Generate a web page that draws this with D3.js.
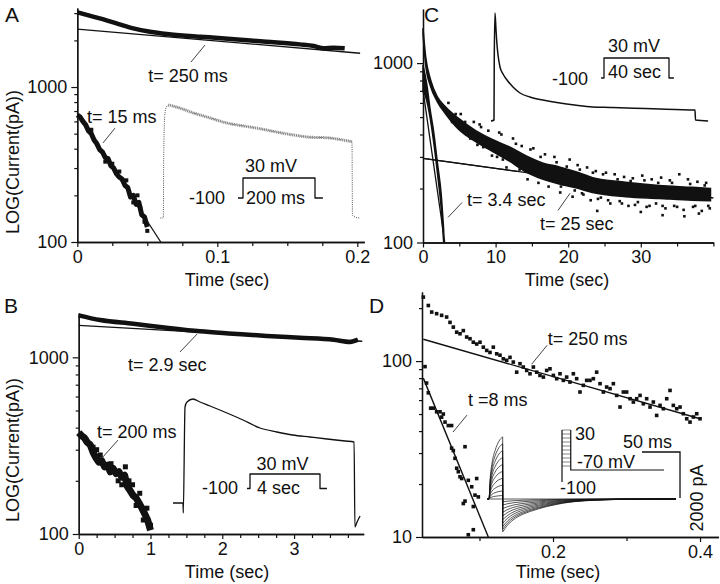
<!DOCTYPE html>
<html><head><meta charset="utf-8">
<script src="https://cdn.jsdelivr.net/npm/d3@7"></script>
<style>
body{margin:0;background:#fff}
svg text{font-family:"Liberation Sans",Arial,Helvetica,sans-serif;fill:#111}
</style>
</head><body>
<svg id="c" width="720" height="584"></svg>
<script>
// ================= DATA =================
// ---- Panel A (time in s, current in pA) ----
const aXMajor = [0, 0.1, 0.2];
const aXMinor = [0.025, 0.05, 0.075, 0.125, 0.15, 0.175];
const aYMajor = [100, 1000];
const aYMinor = [200, 300, 400, 500, 600, 700, 800, 900, 2000, 3000];
const aSlowT = [0, 0.008, 0.016, 0.028, 0.04, 0.052, 0.064, 0.088, 0.112, 0.135, 0.159, 0.169, 0.176, 0.183, 0.191];
const aSlowV = [3034, 2900, 2775, 2576, 2392, 2274, 2198, 2113, 2032, 1960, 1885, 1840, 1778, 1794, 1778];
const aFastT = [0, 0.002, 0.004, 0.006, 0.008, 0.010, 0.012, 0.014, 0.016, 0.018, 0.020, 0.022, 0.024, 0.026, 0.028, 0.030, 0.032, 0.034, 0.036, 0.038, 0.040, 0.042, 0.044, 0.046, 0.048, 0.050];
const aFastV = [660, 640, 600, 570, 520, 500, 455, 430, 395, 380, 350, 345, 310, 300, 275, 262, 255, 232, 225, 195, 200, 175, 180, 150, 145, 125];
const aFastDotT = [0.01, 0.02, 0.03, 0.035, 0.04, 0.045, 0.048, 0.05, 0.025, 0.043];
const aFastDotV = [530, 330, 285, 250, 180, 165, 135, 118, 320, 200];
const aFitSlowT = [0, 0.202], aFitSlowV = [2366, 1652];
const aFitFastT = [0, 0.0596], aFitFastV = [676, 100];
// inset current trace A (ms, nA)
const aInsT = [-3.2, 0, 0.5, 1.8, 3.5, 5.3, 14.8, 31.7, 49.7, 67.7, 84.7, 102.6, 120.6, 137.6, 155.6, 173.5, 190.5, 200, 200.5, 203, 208];
const aInsI = [0, 0, 1.2, 1.86, 1.97, 2.0, 1.96, 1.86, 1.77, 1.68, 1.63, 1.58, 1.52, 1.47, 1.43, 1.42, 1.38, 1.35, 0.05, 0.02, 0];
const protoAT = [-14, 0, 0, 200, 200, 222];
const protoV = [-100, -100, 30, 30, -100, -100];

// ---- Panel B ----
const bXMajor = [0, 1, 2, 3];
const bXMinor = [0.25, 0.5, 0.75, 1.25, 1.5, 1.75, 2.25, 2.5, 2.75, 3.25, 3.5, 3.75];
const bYMajor = [100, 1000];
const bYMinor = [200, 300, 400, 500, 600, 700, 800, 900];
const bSlowT = [0, 0.3, 0.76, 1.22, 1.69, 2.15, 2.62, 3.08, 3.55, 3.78, 3.89];
const bSlowV = [1729, 1625, 1550, 1471, 1403, 1361, 1321, 1291, 1259, 1222, 1259];
const bFastT = [0, 0.04, 0.08, 0.12, 0.16, 0.2, 0.24, 0.28, 0.32, 0.36, 0.40, 0.44, 0.48, 0.52, 0.56, 0.60, 0.64, 0.68, 0.72, 0.76, 0.80, 0.84, 0.88, 0.92, 0.96, 1.0];
const bFastV = [375, 360, 350, 330, 320, 290, 270, 255, 260, 240, 245, 225, 235, 220, 225, 210, 215, 185, 175, 165, 160, 150, 140, 130, 120, 105];
const bFastDotT = [0.1, 0.2, 0.3, 0.45, 0.55, 0.65, 0.75, 0.8, 0.85, 0.9, 0.95, 1.0, 0.25, 0.6, 0.7];
const bFastDotV = [340, 310, 280, 250, 200, 240, 190, 145, 170, 120, 140, 112, 300, 190, 200];
const bFitSlowT = [0, 3.95], bFitSlowV = [1517, 1233];
const bInsT = [-0.233, 0, 0.007, 0.047, 0.093, 0.233, 0.396, 0.63, 1.026, 1.4, 1.795, 2.19, 2.56, 2.96, 3.36, 3.78, 3.99, 4.01, 4.06, 4.13];
const bInsI = [0, 0, -0.2, 1.92, 2.02, 2.08, 2.02, 1.94, 1.8, 1.66, 1.5, 1.42, 1.36, 1.32, 1.28, 1.24, 1.22, -0.48, -0.38, -0.26];
const protoBT = [-0.17, 0, 0, 4, 4, 4.4];

// ---- Panel C ----
const cXMajor = [0, 10, 20, 30];
const cXMinor = [5, 15, 25, 35, 40];
const cYMajor = [100, 1000];
const cYMinor = [200, 300, 400, 500, 600, 700, 800, 900];
const cSlowT  = [0, 0.37, 1.06, 1.98, 3.12, 4.96, 7.25, 9.55, 11.85, 14.15, 16.45, 18.75, 21.05, 23.35, 27.9, 32.5, 37.1, 39.6];
const cSlowHi = [1563, 1084, 803, 648, 570, 490, 420, 375, 342, 305, 278, 264, 248, 230, 217, 208, 203, 200];
const cSlowLo = [1450, 975, 738, 608, 520, 425, 365, 322, 285, 248, 226, 212, 202, 190, 180, 176, 172, 171];
const cFastT  = [0, 0.5, 1, 1.5, 2, 2.5, 2.85];
const cFastHi = [975, 770, 546, 405, 275, 187, 117];
const cFastLo = [706, 621, 491, 356, 242, 157, 100];
const cDotT = [4.5, 5.8, 6.5, 7.8, 8.3, 9.0, 10.2, 10.8, 11.5, 12.4, 13.0, 13.6, 14.4, 15.2, 15.9, 16.8, 17.3, 18.1, 18.9, 19.4, 20.2, 20.6, 21.3, 21.9, 22.6, 23.1, 23.8, 24.5, 25.2, 25.8, 26.4, 27.1, 27.7, 28.3, 28.9, 29.6, 30.2, 30.8, 31.5, 32.1, 32.8, 33.4, 34.0, 34.6, 35.3, 35.9, 36.5, 37.2, 37.8, 38.4, 39.0, 39.5, 26, 31, 36.2, 17.5, 12.0, 8.8, 22.3, 33.7,
  3.5, 4.0, 5.2, 6.0, 7.0, 7.5, 8.0, 9.5, 10.5, 11.0, 12.8, 13.3, 14.8, 15.5, 16.2, 17.0, 18.4, 19.0, 19.8, 20.9, 21.6, 22.1, 23.4, 24.1, 24.8, 25.5, 26.8, 27.4, 28.6, 29.2, 30.5, 31.2, 32.4, 33.0, 34.3, 35.0, 36.8, 37.5, 38.8, 39.3, 36, 38, 30, 24, 33];
const cDotV = [520, 470, 380, 455, 340, 420, 300, 400, 262, 380, 270, 345, 225, 335, 215, 310, 205, 300, 190, 210, 290, 180, 270, 188, 262, 172, 250, 178, 245, 165, 240, 170, 232, 160, 228, 168, 236, 158, 225, 165, 230, 155, 222, 160, 240, 152, 225, 158, 218, 150, 215, 155, 205, 200, 195, 260, 310, 370, 230, 190,
  600, 470, 520, 400, 470, 350, 440, 305, 410, 290, 355, 255, 330, 240, 300, 225, 280, 205, 265, 195, 255, 185, 245, 175, 240, 172, 225, 165, 220, 162, 222, 160, 215, 160, 215, 158, 212, 160, 208, 160, 140, 145, 148, 150, 142];
const cFitSlowT = [0, 40], cFitSlowV = [294, 177];
const cFitFastT = [0, 3.0], cFitFastV = [707, 100];
const cInsT = [-0.6, 0, 0.05, 0.2, 0.4, 0.6, 0.8, 1.19, 1.79, 2.58, 3.77, 5.16, 7.1, 9.7, 13.1, 16, 19.6, 23, 26.4, 30, 32.9, 36, 39.9, 40, 42.5];
const cInsI = [-0.02, 0, 1.2, 2.14, 1.8, 1.5, 1.3, 1.06, 0.92, 0.8, 0.66, 0.54, 0.46, 0.4, 0.34, 0.3, 0.26, 0.25, 0.24, 0.23, 0.22, 0.21, 0.2, 0, -0.02];
const protoCT = [-1.8, 0, 0, 40, 40, 43];

// ---- Panel D ----
const dXMajor = [0.2, 0.4];
const dXMinor = [0.1, 0.3];
const dYMajor = [10, 100];
const dYMinor = [20, 30, 40, 50, 60, 70, 80, 90, 200];
const dSlowT = [0.0236, 0.0304, 0.035, 0.0417, 0.0485, 0.0553, 0.0599, 0.0644, 0.069, 0.0735, 0.078, 0.0826, 0.0871, 0.0916, 0.0962, 0.1007, 0.1052, 0.1098, 0.1143, 0.1188, 0.1234, 0.1279, 0.1324, 0.137, 0.1415, 0.146, 0.1506, 0.1551, 0.1596, 0.1642, 0.1687, 0.1733, 0.1778, 0.1823, 0.1869, 0.1914, 0.1959, 0.2005, 0.205, 0.2095, 0.2141, 0.2186, 0.2231, 0.2277, 0.2322, 0.2367, 0.2413, 0.2458, 0.2503, 0.2549, 0.2594, 0.264, 0.2685, 0.273, 0.2776, 0.2821, 0.2866, 0.2912, 0.2957, 0.3002, 0.3048, 0.3093, 0.3138, 0.3184, 0.3229, 0.3274, 0.332, 0.3365, 0.341, 0.3456, 0.3501, 0.3547, 0.3592, 0.3637, 0.3683, 0.3728, 0.3773, 0.3819, 0.3864, 0.3909, 0.3955, 0.4];
const dSlowV = [231, 207, 190, 186, 182, 178, 166, 156, 146, 143, 149, 137, 134, 128, 125, 128, 120, 115, 112, 120, 110, 108, 103, 101, 105, 98.7, 86.5, 96.6, 92.5, 88.5, 84.7, 92.5, 86.5, 82.9, 81.1, 88.5, 90.4, 82.9, 79.4, 84.7, 77.7, 81.1, 76, 84.7, 79.4, 66.7, 72.8, 77.7, 77.7, 79.4, 86.5, 74.4, 66.7, 71.2, 69.7, 74.4, 63.8, 54.8, 66.7, 66.7, 61.1, 58.5, 61.1, 63.8, 57.2, 61.1, 54.8, 58.5, 49.1, 56, 53.6, 61.1, 68.1, 56, 53.6, 54.8, 50.2, 47, 45, 48.1, 50.2, 47];
const dFastT = [0.0259, 0.028, 0.0304, 0.0336, 0.0372, 0.0417, 0.0463, 0.0485, 0.0508, 0.0531, 0.0576, 0.0621, 0.0621, 0.0644, 0.0667, 0.069, 0.0712, 0.0735, 0.0758, 0.0803, 0.078, 0.0803, 0.0848, 0.0894, 0.0916, 0.0939, 0.0962, 0.0984, 0.0916, 0.0848];
const dFastV = [93, 75, 66, 54, 54, 51.5, 51.5, 48, 50, 45, 43, 43, 32, 31, 28, 24.6, 23.5, 22, 21.5, 32.6, 15.5, 16, 21, 19.3, 14.9, 17.3, 21.5, 16.9, 11, 10.3];
const dFitSlowT = [0.0236, 0.4], dFitSlowV = [133, 47];
const dFitFastT = [0.0236, 0.112], dFitFastV = [80, 10];
// inset D: current family (ms, pA)
const dStepMs = 18;
const dStepT = [0, 1.5, 4, 8, 13, 18];
const dStepShape = [0, 0.32, 0.58, 0.78, 0.93, 1];
const dTailT = [0, 3, 7, 13.5, 20, 28, 36, 47, 58, 70, 79, 95, 120, 150, 190, 228];
const dTailShape = [1, 0.9, 0.78, 0.64, 0.54, 0.45, 0.38, 0.3, 0.23, 0.17, 0.13, 0.08, 0.04, 0.015, 0.005, 0];
const dStepAmps = [0, 150, 350, 600, 900, 1200, 1500, 1800, 2100, 2400, 2700];
const dTailAmps = [0, 120, 260, 420, 580, 740, 900, 1050, 1200, 1320, 1430];
const dProtoLevels = [-60, -50, -40, -30, -20, -10, 0, 10, 20, 30];

// ================= LAYOUT =================
const INK = "#111";
const FS = 18;
const svg = d3.select("#c");

function txt(x, y, s, opt = {}) {
  const t = svg.append("text").attr("x", x).attr("y", y).text(s)
    .attr("font-size", opt.size || FS).attr("text-anchor", opt.anchor || "start");
  if (opt.rotate) t.attr("transform", `rotate(${opt.rotate},${x},${y})`);
  if (opt.dy) t.attr("dy", opt.dy);
  return t;
}
function styleAxis(g) {
  g.attr("font-size", FS).attr("font-family", '"Liberation Sans",Arial,sans-serif');
  g.selectAll("path.domain").attr("stroke", INK).attr("stroke-width", 1.3);
  g.selectAll("line").attr("stroke", INK).attr("stroke-width", 1.2);
  g.selectAll("text").attr("fill", INK);
}
function panel(o) {
  const x = d3.scaleLinear().domain(o.xd).range(o.xr);
  const y = d3.scaleLog().domain(o.yd).range(o.yr);
  const g = svg.append("g");
  const x0 = o.xr[0], y0 = o.yr[0];
  g.append("g").attr("transform", `translate(${x0},0)`)
    .call(d3.axisLeft(y).tickValues(o.yMin).tickSize(3).tickSizeOuter(0).tickFormat(""))
    .call(styleAxis);
  g.append("g").attr("transform", `translate(${x0},0)`)
    .call(d3.axisLeft(y).tickValues(o.yMaj).tickSize(6).tickSizeOuter(0).tickPadding(4).tickFormat(d => String(d)))
    .call(styleAxis);
  g.append("g").attr("transform", `translate(0,${y0})`)
    .call(d3.axisBottom(x).tickValues(o.xMin).tickSize(4).tickSizeOuter(0).tickFormat(""))
    .call(styleAxis);
  g.append("g").attr("transform", `translate(0,${y0})`)
    .call(d3.axisBottom(x).tickValues(o.xMaj).tickSize(5).tickSizeOuter(0).tickPadding(3).tickFormat(d => String(d)))
    .call(styleAxis);
  return { x, y, g };
}
function path(g, sx, sy, T, V, w, opt = {}) {
  return g.append("path").datum(d3.zip(T, V))
    .attr("fill", "none").attr("stroke", opt.color || INK).attr("stroke-width", w)
    .attr("stroke-linejoin", "round").attr("stroke-linecap", opt.cap || "butt")
    .attr("stroke-dasharray", opt.dash || null)
    .attr("d", d3.line().x(d => sx(d[0])).y(d => sy(d[1])).curve(opt.curve || d3.curveLinear));
}
function squares(g, sx, sy, T, V, s) {
  g.append("g").selectAll("rect").data(d3.zip(T, V)).join("rect")
    .attr("x", d => sx(d[0]) - s / 2).attr("y", d => sy(d[1]) - s / 2)
    .attr("width", s).attr("height", s).attr("fill", INK);
}
function band(g, sx, sy, T, Hi, Lo) {
  const data = T.map((t, i) => [t, Hi[i], Lo[i]]);
  g.append("path").datum(data).attr("fill", INK).attr("stroke", INK).attr("stroke-width", 1.5)
    .attr("d", d3.area().x(d => sx(d[0])).y0(d => sy(d[2])).y1(d => sy(d[1])).curve(d3.curveMonotoneX));
}
function annot(P, s, t, v, lt1, lv1, lt2, lv2) {
  txt(P.x(t), P.y(v), s);
  P.g.append("line").attr("x1", P.x(lt1)).attr("y1", P.y(lv1)).attr("x2", P.x(lt2)).attr("y2", P.y(lv2))
    .attr("stroke", INK).attr("stroke-width", 0.8);
}
function protocol(T, V, xr, tEnd, yr, labels) {
  const px = d3.scaleLinear().domain([0, tEnd]).range(xr);
  const py = d3.scaleLinear().domain([-100, 30]).range(yr);
  path(svg, px, py, T, V, 1.3);
  labels.forEach(l => txt(l[1], l[2], l[0], { anchor: l[3] || "middle" }));
}

// ---------- Panel A ----------
const A = panel({ xd: [0, 0.205], xr: [77.3, 364.3], yd: [100, 3236], yr: [242, 8],
  xMaj: aXMajor, xMin: aXMinor, yMaj: aYMajor, yMin: aYMinor });
path(A.g, A.x, A.y, aFitSlowT, aFitSlowV, 1.3);
path(A.g, A.x, A.y, aFitFastT, aFitFastV, 1.3);
path(A.g, A.x, A.y, aSlowT, aSlowV, 4.5, { curve: d3.curveMonotoneX });
path(A.g, A.x, A.y, aFastT, aFastV, 5);
squares(A.g, A.x, A.y, aFastDotT, aFastDotV, 4);
annot(A, "t= 250 ms", 0.0506, 1076, 0.0812, 1449, 0.0912, 1866);
annot(A, "t= 15 ms", 0.0069, 586, 0.0184, 436, 0.0269, 543);
{
  const ix = d3.scaleLinear().domain([0, 200]).range([163.3, 352]);
  const iy = d3.scaleLinear().domain([0, 2]).range([218, 105]);
  path(svg, ix, iy, aInsT, aInsI, 1, { color: "#555", dash: "1,1.2", curve: d3.curveMonotoneX });
  const dec = aInsT.map((t, i) => i).filter(i => aInsT[i] >= 5.3 && aInsT[i] <= 200);
  path(svg, ix, iy, dec.map(i => aInsT[i]), dec.map(i => aInsI[i]), 3, { color: "#8a8a8a", dash: "1,0.8", curve: d3.curveMonotoneX });
}
protocol(protoAT, protoV, [243, 315], 200, [198, 178],
  [["30 mV", 245, 172, "start"], ["-100", 225, 203.5, "end"], ["200 ms", 246, 203.5, "start"]]);
txt(227, 286, "Time (sec)", { anchor: "middle" });
txt(13, 162, "LOG(Current(pA))", { anchor: "middle", rotate: -90, dy: "0.35em" });
txt(5, 22, "A", { size: 21 });

// ---------- Panel B ----------
const B = panel({ xd: [0, 3.97], xr: [78.7, 363.7], yd: [100, 1782], yr: [534, 313],
  xMaj: bXMajor, xMin: bXMinor, yMaj: bYMajor, yMin: bYMinor });
path(B.g, B.x, B.y, bFitSlowT, bFitSlowV, 1.3);
path(B.g, B.x, B.y, bSlowT, bSlowV, 4.5, { curve: d3.curveMonotoneX });
path(B.g, B.x, B.y, bFastT, bFastV, 7);
squares(B.g, B.x, B.y, bFastDotT, bFastDotV, 5);
annot(B, "t= 2.9 sec", 0.687, 836, 1.411, 1072, 1.65, 1355);
annot(B, "t= 200 ms", 0.255, 349, 0.338, 273, 0.547, 340);
{
  const ix = d3.scaleLinear().domain([0, 4]).range([183, 354.5]);
  const iy = d3.scaleLinear().domain([0, 2]).range([503, 403]);
  path(svg, ix, iy, bInsT, bInsI, 1.3, { curve: d3.curveMonotoneX });
}
protocol(protoBT, protoV, [250, 320], 4, [488.5, 474],
  [["30 mV", 282.5, 469.5], ["-100", 238, 493.5, "end"], ["4 sec", 278.5, 493.5]]);
txt(227, 578, "Time (sec)", { anchor: "middle" });
txt(13, 450, "LOG(Current(pA))", { anchor: "middle", rotate: -90, dy: "0.35em" });
txt(4, 313, "B", { size: 21 });

// ---------- Panel C ----------
const C = panel({ xd: [0, 40], xr: [423, 713.4], yd: [100, 2000], yr: [242.5, 9.1],
  xMaj: cXMajor, xMin: cXMinor, yMaj: cYMajor, yMin: cYMinor });
path(C.g, C.x, C.y, cFitSlowT, cFitSlowV, 1.3);
band(C.g, C.x, C.y, cSlowT, cSlowHi, cSlowLo);
squares(C.g, C.x, C.y, cDotT, cDotV, 2.6);
band(C.g, C.x, C.y, cFastT, cFastHi, cFastLo);
path(C.g, C.x, C.y, cFitFastT, cFitFastV, 1.3);
path(C.g, C.x, C.y, [cFitSlowT[0], 13], [cFitSlowV[0], 294 * Math.pow(cFitSlowV[1] / cFitSlowV[0], 13 / 40)], 1.3);
annot(C, "t= 3.4 sec", 6.06, 159, 3.44, 138, 5.37, 167);
annot(C, "t= 25 sec", 16.1, 118, 18.6, 151, 20.25, 188);
{
  const ix = d3.scaleLinear().domain([0, 40]).range([494, 695.5]);
  const iy = d3.scaleLinear().domain([0, 2]).range([120, 20]);
  path(svg, ix, iy, cInsT, cInsI, 1.5, { curve: d3.curveMonotoneX });
}
protocol(protoCT, protoV, [604, 669], 40, [78, 58],
  [["30 mV", 634, 51.5], ["-100", 588, 84.5, "end"], ["40 sec", 608, 78, "start"]]);
txt(567, 286, "Time (sec)", { anchor: "middle" });
txt(424, 22, "C", { size: 21 });

// ---------- Panel D ----------
const D = panel({ xd: [0.0218, 0.425], xr: [422, 718.4], yd: [10, 247], yr: [537, 292],
  xMaj: dXMajor, xMin: dXMinor, yMaj: dYMajor, yMin: dYMinor });
path(D.g, D.x, D.y, dFitSlowT, dFitSlowV, 1.4);
path(D.g, D.x, D.y, dFitFastT, dFitFastV, 1.4);
squares(D.g, D.x, D.y, dSlowT, dSlowV, 3.6);
squares(D.g, D.x, D.y, dFastT, dFastV, 3.6);
annot(D, "t= 250 ms", 0.193, 123, 0.171, 96, 0.192, 123);
annot(D, "t =8 ms", 0.0844, 55.5, 0.064, 39.5, 0.083, 49.3);
{
  const ix = d3.scaleLinear().domain([0, 246]).range([489, 676]);
  const iy = d3.scaleLinear().domain([0, 2000]).range([499, 453]);
  const gi = svg.append("g");
  dStepAmps.forEach((sa, k) => {
    const ta = dTailAmps[k];
    path(gi, ix, iy, [-2].concat(dStepT), [0].concat(dStepShape.map(s => s * sa)), 0.7, { curve: d3.curveMonotoneX });
    path(gi, ix, iy, [dStepMs, dStepMs], [sa, -ta], 0.7);
    path(gi, ix, iy, dTailT.map(t => t + dStepMs), dTailShape.map(s => -s * ta), 0.7, { curve: d3.curveMonotoneX });
  });
  // scale bar: 50 ms, 2000 pA
  const bx0 = 642, by0 = 452;
  const w50 = ix(50) - ix(0), h2000 = iy(0) - iy(2000);
  svg.append("path").attr("fill", "none").attr("stroke", INK).attr("stroke-width", 1.3)
    .attr("d", `M${bx0},${by0}H${bx0 + w50}V${by0 + h2000}`);
  txt(647.5, 447.5, "50 ms", { anchor: "middle" });
  txt(697, 498, "2000 pA", { anchor: "middle", rotate: -90, dy: "0.35em" });
  // voltage protocol
  const px = d3.scaleLinear().domain([0, 140]).range([562, 664]);
  const py = d3.scaleLinear().domain([-100, 30]).range([482, 430]);
  const pStep = 12;
  dProtoLevels.forEach(v => path(gi, px, py, [0, pStep], [v, v], 0.9, { color: "#777" }));
  path(gi, px, py, [0, 0], [-100, 30], 1.2);
  path(gi, px, py, [pStep, pStep, 140], [30, -70, -70], 1.2);
  txt(575, 439.5, "30");
  txt(577, 467.5, "-70 mV");
  txt(560, 493.5, "-100");
}
txt(558, 578, "Time (sec)", { anchor: "middle" });
txt(369, 313, "D", { size: 21 });
</script>
</body></html>
